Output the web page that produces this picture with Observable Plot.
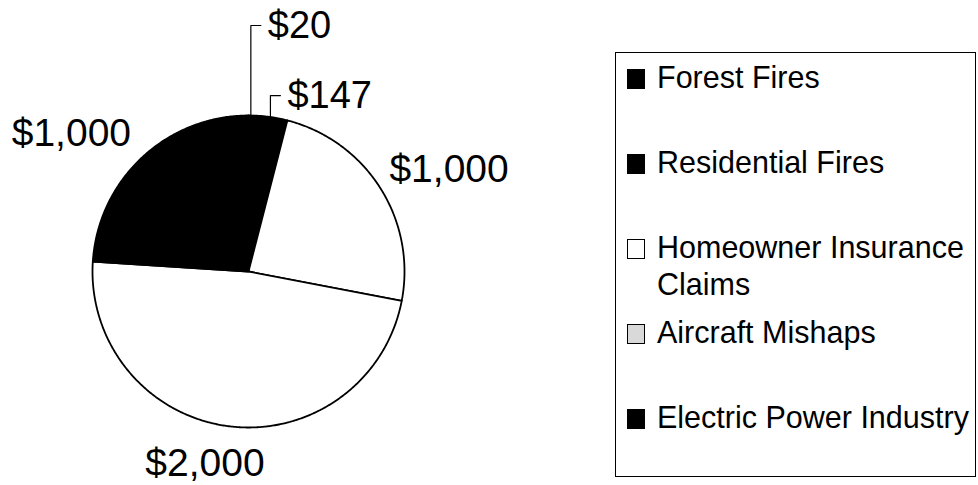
<!DOCTYPE html>
<html><head><meta charset="utf-8">
<script src="https://cdn.jsdelivr.net/npm/d3@7"></script>
<script src="https://cdn.jsdelivr.net/npm/@observablehq/plot@0.6"></script>
<style>
body{margin:0;background:#fff;}
#wrap{position:relative;width:978px;height:485px;overflow:hidden;font-family:"Liberation Sans",Arial,Helvetica,sans-serif;color:#000;}
#pie{position:absolute;left:0;top:0;}
#legend{position:absolute;left:615px;top:52px;width:361px;height:425px;border:1px solid #000;box-sizing:border-box;}
.row{position:absolute;left:0;height:85px;width:100%;}
.sw{position:absolute;left:11px;top:10px;width:18px;height:20px;box-sizing:border-box;border:1.5px solid #000;}
.lt{position:absolute;left:41px;top:0;width:316px;font-size:30.5px;line-height:37px;}
</style></head>
<body><div id="wrap"><div id="pie"></div><div id="legend"></div></div>
<script>
// ---- data ----
const categories = ["Forest Fires","Residential Fires","Homeowner Insurance Claims","Aircraft Mishaps","Electric Power Industry"];
const values = [20,147,1000,2000,1000];
const valueLabels = ["$20","$147","$1,000","$2,000","$1,000"];
const sliceFills = ["#000","#000","#fff","#fff","#000"];
const swatchFills = ["#000","#000","#fff","#d9d9d9","#000"];

// ---- layout ----
const W = 600, H = 485, CX = 248, CY = 271, R = 156;
const leaderTops = {"Forest Fires": 1.577, "Residential Fires": 1.128};
const labelNudge = {"Aircraft Mishaps": [-22, 7], "Homeowner Insurance Claims": [-4, 2]}; // px
const labelRadius = 1.1;
const FONT = '"Liberation Sans", Arial, Helvetica, sans-serif';

const data = categories.map((c,i)=>({category:c, value:values[i], label:valueLabels[i], fill:sliceFills[i]}));
const arcs = d3.pie().sort(null).value(d=>d.value)(data);

const slicePts = [];
arcs.forEach(a=>{
  const key = a.data.category, fill = a.data.fill;
  slicePts.push({key, x:0, y:0, fill});
  const n = Math.max(2, Math.ceil((a.endAngle-a.startAngle)/(Math.PI/360)));
  for (let k=0;k<=n;k++){
    const t = a.startAngle + (a.endAngle-a.startAngle)*k/n;
    slicePts.push({key, x:Math.sin(t), y:Math.cos(t), fill});
  }
  slicePts.push({key, x:0, y:0, fill});
});

const bigLabels = [], leaderPts = [], smallLabels = [];
arcs.forEach(a=>{
  const m = (a.startAngle+a.endAngle)/2, s = Math.sin(m), c = Math.cos(m);
  const key = a.data.category;
  if (key in leaderTops){
    const top = leaderTops[key];
    leaderPts.push({key,x:s,y:c},{key,x:s,y:top},{key,x:s+10/R,y:top});
    smallLabels.push({x:s+17/R, y:top, label:a.data.label});
  } else {
    const [nx, ny] = labelNudge[key] || [0, 0];
    bigLabels.push({x:labelRadius*s + nx/R, y:labelRadius*c - ny/R, label:a.data.label,
      anchor: s>0.3?"start":s<-0.3?"end":"middle", line: c>=0?"bottom":"top"});
  }
});

const textMarks = [];
for (const anchor of ["start","middle","end"]) for (const line of ["top","bottom"]) {
  const d = bigLabels.filter(b=>b.anchor===anchor && b.line===line);
  if (d.length) textMarks.push(Plot.text(d,{x:"x",y:"y",text:"label",textAnchor:anchor,lineAnchor:line,fontSize:39,fontFamily:FONT}));
}

const plot = Plot.plot({
  width:W, height:H, margin:0,
  x:{domain:[-CX/R,(W-CX)/R], axis:null},
  y:{domain:[-(H-CY)/R, CY/R], axis:null},
  color:{type:"identity"},
  style:{fontFamily:FONT, background:"transparent", overflow:"visible"},
  marks:[
    Plot.line(slicePts,{x:"x",y:"y",z:"key",fill:"fill",stroke:"#000",strokeWidth:1.8,strokeLinejoin:"round"}),
    Plot.line(leaderPts,{x:"x",y:"y",z:"key",stroke:"#000",strokeWidth:1.2}),
    Plot.text(smallLabels,{x:"x",y:"y",text:"label",textAnchor:"start",lineAnchor:"middle",fontSize:38,fontFamily:FONT}),
    ...textMarks
  ]
});
document.getElementById("pie").appendChild(plot);

// ---- legend ----
const legend = document.getElementById("legend");
categories.forEach((c,i)=>{
  const row = document.createElement("div");
  row.className = "row";
  row.style.top = (6 + i*85) + "px";
  const sw = document.createElement("div");
  sw.className = "sw";
  sw.style.background = swatchFills[i];
  const t = document.createElement("div");
  t.className = "lt";
  t.textContent = c;
  row.appendChild(sw); row.appendChild(t);
  legend.appendChild(row);
});
</script></body></html>
